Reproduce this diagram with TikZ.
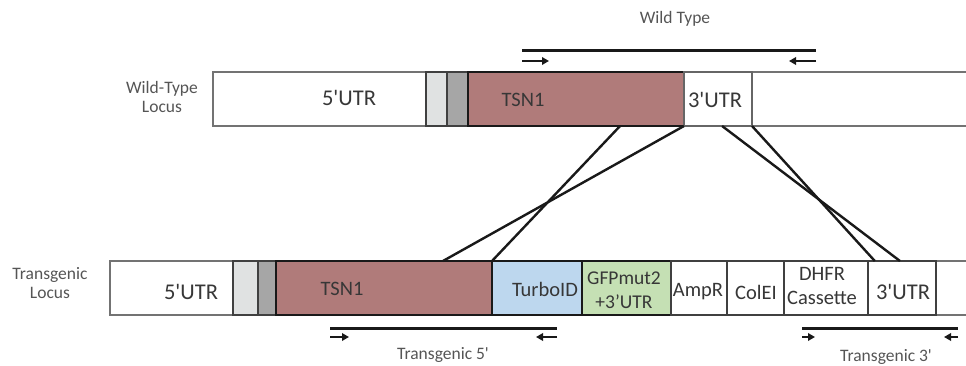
\documentclass[tikz,border=0pt]{standalone}
\usepackage{fontspec}
\setmainfont{Carlito}
\usetikzlibrary{calc,arrows.meta}
\definecolor{tsncol}{RGB}{176,123,122}
\definecolor{turbocol}{RGB}{189,215,238}
\definecolor{gfpcol}{RGB}{197,224,180}
\definecolor{lgcol}{RGB}{224,226,226}
\definecolor{dgcol}{RGB}{166,166,166}
\definecolor{txtcol}{RGB}{55,55,55}
\definecolor{sidecol}{RGB}{85,85,85}
\newcommand{\sq}{\textquotesingle}
\begin{document}
\begin{tikzpicture}[x=1pt,y=-1pt,
  body/.style={draw=black!55, line width=1.8pt, fill=white, anchor=north west, inner sep=0pt, outer sep=0pt, minimum height=54pt},
  seg/.style={draw=black!75, line width=1.5pt, anchor=north west, inner sep=0pt, outer sep=0pt, minimum height=54pt},
  lbl/.style={font=\fontsize{20.5}{24}\selectfont, text=txtcol, align=center, inner sep=0pt},
  biglbl/.style={font=\fontsize{22.5}{24}\selectfont, text=txtcol, align=center, inner sep=0pt},
  side/.style={font=\fontsize{17.5}{19.5}\selectfont, text=sidecol, align=center, inner sep=0pt},
  cross/.style={line width=2.4pt, black!90},
  primer/.style={line width=3pt, black!90},
  parr/.style={line width=2.6pt, black!90, -{Triangle[length=7pt,width=7.5pt]}}
]
\useasboundingbox (0,0) rectangle (966,366);

% ---------- Wild-type locus ----------
\node[body, minimum width=770pt] (wtbody) at (213,72) {};
\node[seg, fill=lgcol, minimum width=21pt] (wtlg) at (426,72) {};
\node[seg, fill=dgcol, minimum width=21pt] (wtdg) at (447,72) {};
\node[seg, fill=tsncol, draw=black!90, minimum width=216pt] (wttsn) at (468,72) {};
\node[seg, fill=white, draw=black!60, minimum width=68pt] (wtutr) at (684,72) {};

\node[side] (wtside) at (162,97) {Wild-Type\\Locus};
\node[biglbl] (wt5) at (349,98) {5\sq UTR};
\node[lbl] (wttsnl) at (523,100) {TSN1};
\node[biglbl] (wt3) at (715,100) {3\sq UTR};

% ---------- Transgenic locus ----------
\node[body, minimum width=870pt] (tgbody) at (110,261) {};
\node[seg, fill=lgcol, minimum width=25pt] (tglg) at (233,261) {};
\node[seg, fill=dgcol, minimum width=18pt] (tgdg) at (258,261) {};
\node[seg, fill=tsncol, draw=black!90, minimum width=216pt] (tgtsn) at (276,261) {};
\node[seg, fill=turbocol, draw=black!90, minimum width=90pt] (tgturbo) at (492,261) {};
\node[seg, fill=gfpcol, draw=black!90, minimum width=89pt] (tggfp) at (582,261) {};
\node[seg, fill=white, minimum width=56pt] (tgamp) at (671,261) {};
\node[seg, fill=white, minimum width=57pt] (tgcol) at (727,261) {};
\node[seg, fill=white, minimum width=84pt] (tgdhfr) at (784,261) {};
\node[seg, fill=white, minimum width=68pt] (tgutr) at (868,261) {};

\node[side] (tgside) at (50,283) {Transgenic\\Locus};
\node[biglbl] (tg5) at (191,292) {5\sq UTR};
\node[lbl] (tgtsnl) at (342,289) {TSN1};
\node[lbl] (tgturbol) at (545,289) {TurboID};
\node[lbl, font=\fontsize{19.5}{24}\selectfont] (tggfpl) at (624,290) {GFPmut2\\+3’UTR};
\node[lbl] (tgampl) at (698,292) {AmpR};
\node[lbl] (tgcoll) at (756,292) {ColEI};
\node[lbl] (tgdhfrl) at (822,286) {DHFR\\Cassette};
\node[biglbl] (tg3) at (903,292) {3\sq UTR};

% ---------- crossover lines ----------
\draw[cross] ($(wttsn.south west)!0.704!(wttsn.south east)$) -- (tgtsn.north east);
\draw[cross] (wttsn.south east) -- ($(tgtsn.north west)!0.773!(tgtsn.north east)$);
\draw[cross] ($(wtutr.south west)!0.56!(wtutr.south east)$) -- ($(tgutr.north west)!0.47!(tgutr.north east)$);
\draw[cross] (wtutr.south east) -- ($(tgutr.north west)!0.10!(tgutr.north east)$);

% ---------- primers / amplicons ----------
\node[side] (wtlab) at (675,19) {Wild Type};
\coordinate (wta) at (522,51); \coordinate (wtb) at (816,51);
\coordinate (wtfa) at (522,61); \coordinate (wtfb) at (549,61);
\coordinate (wtra) at (816,61); \coordinate (wtrb) at (789,61);
\draw[primer] (wta) -- (wtb);
\draw[parr] (wtfa) -- (wtfb);
\draw[parr] (wtra) -- (wtrb);

\node[side] (t5lab) at (443,355) {Transgenic 5\sq};
\coordinate (t5a) at (330,328); \coordinate (t5b) at (557,328);
\coordinate (t5fa) at (330,337); \coordinate (t5fb) at (349,337);
\coordinate (t5ra) at (557,337); \coordinate (t5rb) at (536,337);
\draw[primer] (t5a) -- (t5b);
\draw[parr] (t5fa) -- (t5fb);
\draw[parr] (t5ra) -- (t5rb);

\node[side] (t3lab) at (886,357) {Transgenic 3\sq};
\coordinate (t3a) at (802,328); \coordinate (t3b) at (958,328);
\coordinate (t3fa) at (802,337); \coordinate (t3fb) at (815,337);
\coordinate (t3ra) at (958,337); \coordinate (t3rb) at (944,337);
\draw[primer] (t3a) -- (t3b);
\draw[parr] (t3fa) -- (t3fb);
\draw[parr] (t3ra) -- (t3rb);
\end{tikzpicture}
\end{document}
